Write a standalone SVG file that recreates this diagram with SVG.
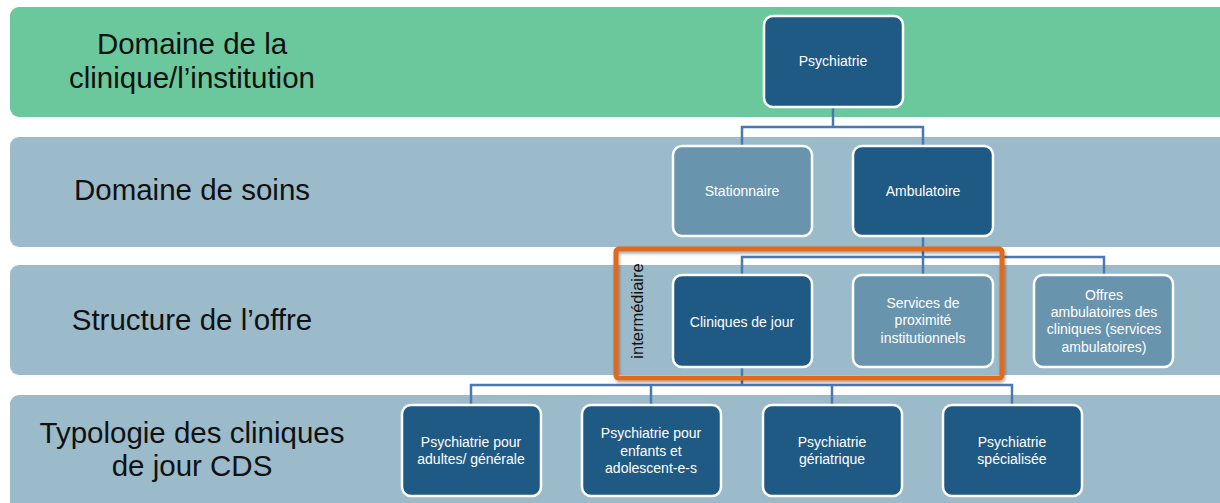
<svg xmlns="http://www.w3.org/2000/svg" width="1220" height="503" viewBox="0 0 1220 503">
<defs>
<style>
.band-g{fill:#6BC79C}
.band-b{fill:#9BBBCB}
.lbl{font-family:"Liberation Sans",Arial,sans-serif;font-size:29.5px;fill:#111;text-anchor:middle}
.nd{fill:#1F5A85;stroke:#fff;stroke-width:2.5}
.nl{fill:#6894AE;stroke:#fff;stroke-width:2.5}
.nt{font-family:"Liberation Sans",Arial,sans-serif;font-size:14px;fill:#fff;text-anchor:middle}
.cn{fill:none;stroke:#4A78B0;stroke-width:2.5}
</style>
<filter id="sh" x="-5%" y="-5%" width="110%" height="115%">
<feDropShadow dx="1" dy="2" stdDeviation="1.5" flood-color="#000" flood-opacity="0.35"/>
</filter>
</defs>
<rect width="1220" height="503" fill="#fff"/>
<g id="bands">
<rect class="band-g" x="10" y="7" width="1225" height="110" rx="9"/>
<rect class="band-b" x="10" y="137" width="1225" height="110" rx="9"/>
<rect class="band-b" x="10" y="265" width="1225" height="110" rx="9"/>
<rect class="band-b" x="10" y="395" width="1225" height="120" rx="9"/>
<text class="lbl" x="192" y="54">Domaine de la</text>
<text class="lbl" x="192" y="88">clinique/l’institution</text>
<text class="lbl" x="192" y="200">Domaine de soins</text>
<text class="lbl" x="192" y="330">Structure de l’offre</text>
<text class="lbl" x="192" y="443">Typologie des cliniques</text>
<text class="lbl" x="192" y="476">de jour CDS</text>
</g>
<g id="connectors">
<path class="cn" d="M833 107V127M742 146V127H923V146"/>
<path class="cn" d="M923 236V257M742 275V257H1104V275M923 257V275"/>
<path class="cn" d="M742 367V385M471 405V385H1012V405M651 385V405M832 385V405"/>
</g>
<g id="n-psychiatrie"><rect class="nd" x="764" y="16" width="139" height="91" rx="9"/><text class="nt" x="833" y="66">Psychiatrie</text></g>
<g id="n-stationnaire"><rect class="nl" x="673" y="146" width="139" height="90" rx="9"/><text class="nt" x="742" y="196">Stationnaire</text></g>
<g id="n-ambulatoire"><rect class="nd" x="853" y="146" width="140" height="90" rx="9"/><text class="nt" x="923" y="196">Ambulatoire</text></g>
<g id="n-cliniques"><rect class="nd" x="673" y="275" width="139" height="92" rx="9"/><text class="nt" x="742" y="327">Cliniques de jour</text></g>
<g id="n-services"><rect class="nl" x="853" y="275" width="140" height="92" rx="9"/><text class="nt" x="923" y="308">Services de</text><text class="nt" x="923" y="325">proximité</text><text class="nt" x="923" y="343">institutionnels</text></g>
<g id="n-offres"><rect class="nl" x="1034" y="275" width="139" height="92" rx="9"/><text class="nt" x="1104" y="300">Offres</text><text class="nt" x="1104" y="317">ambulatoires des</text><text class="nt" x="1104" y="334">cliniques (services</text><text class="nt" x="1104" y="352">ambulatoires)</text></g>
<g id="n-adultes"><rect class="nd" x="402" y="405" width="139" height="91" rx="9"/><text class="nt" x="471" y="447">Psychiatrie pour</text><text class="nt" x="471" y="464">adultes/ générale</text></g>
<g id="n-enfants"><rect class="nd" x="582" y="405" width="139" height="91" rx="9"/><text class="nt" x="651" y="438">Psychiatrie pour</text><text class="nt" x="651" y="456">enfants et</text><text class="nt" x="651" y="473">adolescent-e-s</text></g>
<g id="n-geriatrique"><rect class="nd" x="763" y="405" width="139" height="91" rx="9"/><text class="nt" x="832" y="447">Psychiatrie</text><text class="nt" x="832" y="464">gériatrique</text></g>
<g id="n-specialisee"><rect class="nd" x="943" y="405" width="139" height="91" rx="9"/><text class="nt" x="1012" y="447">Psychiatrie</text><text class="nt" x="1012" y="464">spécialisée</text></g>
<g id="highlight">
<rect x="616" y="249" width="386" height="129" rx="3" fill="none" stroke="#E06A1E" stroke-width="5" filter="url(#sh)"/>
<text transform="translate(643 311) rotate(-90)" font-family="Liberation Sans,Arial,sans-serif" font-size="16.5" fill="#111" text-anchor="middle">intermédiaire</text>
</g>
</svg>
